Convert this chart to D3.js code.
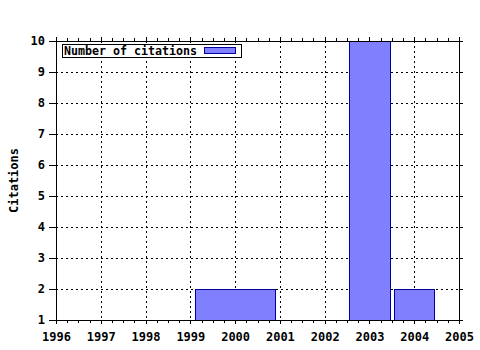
<!DOCTYPE html>
<html>
<head>
<meta charset="utf-8">
<script src="https://cdn.jsdelivr.net/npm/d3@7"></script>
<style>
  body { margin: 0; background: #fff; }
  text { font-family: "DejaVu Sans Mono", monospace; font-weight: bold; font-size: 12px; fill: #000; }
</style>
</head>
<body>
<svg id="chart" width="480" height="350"></svg>
<script>
// data
var years = [2000, 2003, 2004];
var citations = [2, 10, 2];
var spanYears = [2, 1, 1];          // width of each box, in years
var xTicks = [1996, 1997, 1998, 1999, 2000, 2001, 2002, 2003, 2004, 2005];
var yTicks = [1, 2, 3, 4, 5, 6, 7, 8, 9, 10];
var seriesName = "Number of citations";

// layout
var width = 480, height = 350;
var margin = {top: 41, right: 21, bottom: 30, left: 56};
var boxFrac = 0.9;
var fill = "#8080ff", edge = "#0000a0";

var svg = d3.select("#chart");
svg.append("rect").attr("width", width).attr("height", height).attr("fill", "#fff");

var x = d3.scaleLinear().domain([1996, 2005]).range([margin.left, width - margin.right]);
var y = d3.scaleLinear().domain([1, 10]).range([height - margin.bottom, margin.top]);

var x0 = x.range()[0], x1 = x.range()[1];
var yb = y.range()[0], yt = y.range()[1];

// dotted grid
var grid = svg.append("g").attr("stroke", "#000").attr("stroke-width", 1)
    .attr("stroke-dasharray", "2,3").attr("shape-rendering", "crispEdges");
xTicks.slice(1, -1).forEach(function (t) {
    grid.append("line").attr("x1", Math.round(x(t)) + 0.5).attr("x2", Math.round(x(t)) + 0.5)
        .attr("y1", yt).attr("y2", yb);
});
yTicks.slice(1, -1).forEach(function (t) {
    grid.append("line").attr("x1", x0).attr("x2", x1)
        .attr("y1", Math.round(y(t)) + 0.5).attr("y2", Math.round(y(t)) + 0.5);
});

// boxes
svg.append("g").selectAll("rect")
    .data(years)
    .join("rect")
    .attr("x", function (d, i) { return Math.round(x(d - spanYears[i] * boxFrac / 2)) + 0.5; })
    .attr("width", function (d, i) { return Math.round(x(d + spanYears[i] * boxFrac / 2)) - Math.round(x(d - spanYears[i] * boxFrac / 2)); })
    .attr("y", function (d, i) { return Math.round(y(citations[i])) + 0.5; })
    .attr("height", function (d, i) { return Math.round(yb) - Math.round(y(citations[i])); })
    .attr("fill", fill)
    .attr("stroke", edge)
    .attr("stroke-width", 1);

// axes: ticks pointing outward, mirrored on top/right
var minorX = d3.range(1996, 2005.01, 0.25).filter(function (v) { return v % 1 !== 0; });

var axBottom = svg.append("g").attr("transform", "translate(0," + yb + ")")
    .call(d3.axisBottom(x).tickValues(xTicks).tickFormat(d3.format("d")).tickSize(4).tickPadding(8));
var axBottomMinor = svg.append("g").attr("transform", "translate(0," + yb + ")")
    .call(d3.axisBottom(x).tickValues(minorX).tickFormat("").tickSize(3));
var axTop = svg.append("g").attr("transform", "translate(0," + yt + ")")
    .call(d3.axisTop(x).tickValues(xTicks).tickFormat("").tickSize(4));
var axTopMinor = svg.append("g").attr("transform", "translate(0," + yt + ")")
    .call(d3.axisTop(x).tickValues(minorX).tickFormat("").tickSize(3));
var axLeft = svg.append("g").attr("transform", "translate(" + x0 + ",0)")
    .call(d3.axisLeft(y).tickValues(yTicks).tickSize(7).tickPadding(4));
var axRight = svg.append("g").attr("transform", "translate(" + x1 + ",0)")
    .call(d3.axisRight(y).tickValues(yTicks).tickFormat("").tickSize(4));

[axBottom, axBottomMinor, axTop, axTopMinor, axLeft, axRight].forEach(function (g) {
    g.select(".domain").remove();
    g.selectAll("line").attr("stroke", "#000").attr("shape-rendering", "crispEdges");
    g.selectAll("text").attr("fill", "#000").style("font-size", "12px")
        .style("font-family", "'DejaVu Sans Mono', monospace").style("font-weight", "bold");
});

// frame
svg.append("rect")
    .attr("x", x0 + 0.5).attr("y", yt + 0.5)
    .attr("width", x1 - x0).attr("height", yb - yt)
    .attr("fill", "none").attr("stroke", "#000").attr("shape-rendering", "crispEdges");

// axis title
svg.append("text")
    .attr("transform", "translate(18," + ((yt + yb) / 2) + ") rotate(-90)")
    .attr("text-anchor", "middle")
    .text("Citations");

// legend
var legend = svg.append("g").attr("transform", "translate(62,44)");
legend.append("rect").attr("x", 0.5).attr("y", 0.5).attr("width", 179).attr("height", 13)
    .attr("fill", "#fff").attr("stroke", "#000").attr("shape-rendering", "crispEdges");
legend.append("text").attr("x", 2).attr("y", 10.5)
    .attr("textLength", 133).attr("lengthAdjust", "spacingAndGlyphs")
    .text(seriesName);
legend.append("rect").attr("x", 142.5).attr("y", 3.5).attr("width", 31).attr("height", 6)
    .attr("fill", fill).attr("stroke", edge).attr("shape-rendering", "crispEdges");
</script>
</body>
</html>
